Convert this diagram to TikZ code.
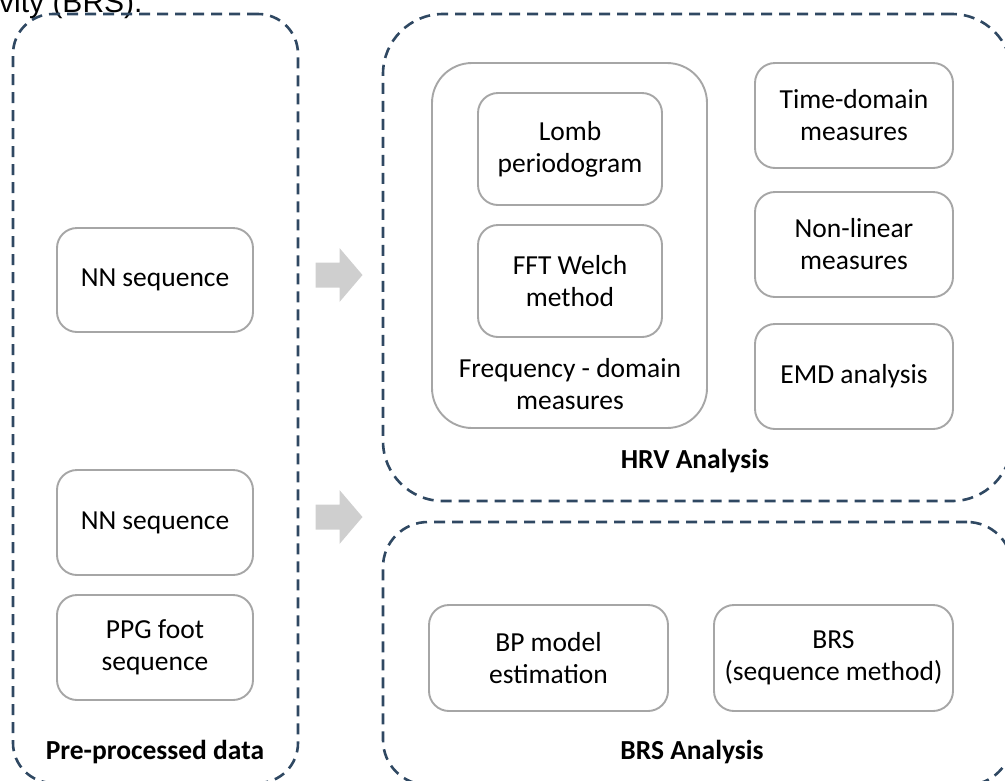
\documentclass[tikz,border=0pt]{standalone}
\usepackage{fontspec}
\setmainfont{Carlito}
\newfontfamily\captionfont{Liberation Sans}
\definecolor{dashblue}{RGB}{47,72,98}
\definecolor{boxgray}{RGB}{166,166,166}
\definecolor{arrowgray}{RGB}{207,207,207}
\begin{document}
\begin{tikzpicture}[x=1pt,y=-1pt,
  group/.style={draw=dashblue, line width=2.6pt, dash pattern=on 11pt off 7pt,
    inner sep=0pt, outer sep=0pt},
  item/.style={draw=boxgray, line width=1.9pt, rounded corners=20pt, fill=white,
    inner sep=0pt, align=center, font=\fontsize{27.5}{32}\selectfont},
  label/.style={align=center, inner sep=0pt, font=\fontsize{27.5}{32}\selectfont},
  heading/.style={inner sep=0pt, font=\bfseries\fontsize{27.5}{32}\selectfont},
  pics/blockarrow/.style={code={
    \fill[arrowgray] (-23,-12.5) -- (1,-12.5) -- (1,-27) -- (24,0) -- (1,27)
      -- (1,12.5) -- (-23,12.5) -- cycle;}}]
\useasboundingbox (0,0) rectangle (1005,780);
\clip (0,0) rectangle (1005,780);

% caption fragment above the figure
\node[anchor=base west, inner sep=0pt, font=\captionfont\fontsize{30}{36}\selectfont]
  (cap) at (-1,12) {vity (BRS).};

% dashed group frames
\node[group, rounded corners=40pt, minimum width=285pt, minimum height=769pt]
  (pre) at (155.5,398.5) {};
\node[group, rounded corners=60pt, minimum width=629pt, minimum height=487pt]
  (hrv) at (697.5,257.5) {};
\node[group, rounded corners=45pt, minimum width=629pt, minimum height=263pt]
  (brs) at (697.5,653.5) {};

% pre-processed data
\node[item, minimum width=196pt, minimum height=104pt] (nn1) at (155,280) {NN sequence};
\node[item, minimum width=196pt, minimum height=105pt] (nn2) at (155,522.5) {NN sequence};
\node[item, minimum width=196pt, minimum height=105pt] (ppg) at (155,647.5) {PPG foot\\sequence};
\node[heading] (prelbl) at (155,752) {Pre-processed data};

% block arrows
\pic at (338.5,275) {blockarrow};
\pic at (338.5,517) {blockarrow};

% HRV analysis
\node[item, rounded corners=40pt, minimum width=275pt, minimum height=365pt]
  (freq) at (569.5,245.5) {};
\node[item, minimum width=184pt, minimum height=112pt] (lomb) at (570,149) {Lomb\\periodogram};
\node[item, minimum width=184pt, minimum height=112pt] (fft) at (570,281) {FFT Welch\\method};
\node[label] (freqlbl) at (570,384) {Frequency - domain\\measures};
\node[item, minimum width=198pt, minimum height=105pt] (time) at (854,115.5) {Time-domain\\measures};
\node[item, minimum width=198pt, minimum height=105pt] (nonlin) at (854,244.5) {Non-linear\\measures};
\node[item, minimum width=198pt, minimum height=105pt] (emd) at (854,376.5) {EMD analysis};
\node[heading] (hrvlbl) at (695,461) {HRV Analysis};

% BRS analysis
\node[item, minimum width=239pt, minimum height=106pt] (bp) at (548.5,658) {BP model\\estimation};
\node[item, minimum width=239pt, minimum height=106pt] (seq) at (833.5,658) {BRS\\(sequence method)};
\node[heading] (brslbl) at (692,752) {BRS Analysis};
\end{tikzpicture}
\end{document}
